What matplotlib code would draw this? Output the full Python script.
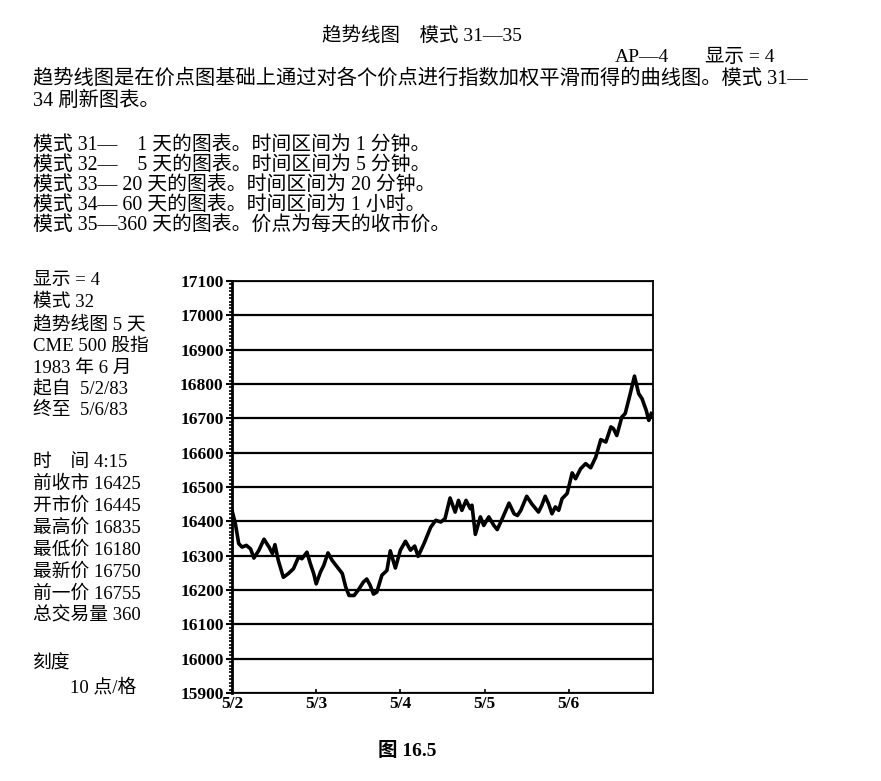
import matplotlib
matplotlib.use('Agg')
import matplotlib.pyplot as plt
from matplotlib.ticker import MultipleLocator

plt.rcParams['font.family'] = ['Liberation Serif', 'Noto Sans CJK SC', 'DejaVu Sans']

# Trend line, mode 32: 5 day chart, x in days from 5/2
days = [0.00, 0.04, 0.08, 0.12, 0.17, 0.22, 0.26, 0.32, 0.38, 0.44, 0.48, 0.51,
        0.55, 0.61, 0.67, 0.73, 0.79, 0.83, 0.89, 0.93, 0.97, 1.00, 1.05, 1.09,
        1.14, 1.19, 1.25, 1.31, 1.35, 1.39, 1.45, 1.50, 1.56, 1.60, 1.64, 1.68,
        1.72, 1.78, 1.84, 1.88, 1.94, 2.00, 2.06, 2.12, 2.17, 2.21, 2.28, 2.36,
        2.42, 2.48, 2.53, 2.59, 2.65, 2.69, 2.73, 2.78, 2.83, 2.85, 2.89, 2.95,
        2.99, 3.05, 3.11, 3.15, 3.21, 3.29, 3.35, 3.39, 3.43, 3.50, 3.56, 3.64,
        3.68, 3.72, 3.76, 3.80, 3.84, 3.88, 3.92, 3.98, 4.04, 4.08, 4.14, 4.20,
        4.26, 4.32, 4.38, 4.44, 4.50, 4.53, 4.57, 4.63, 4.67, 4.73, 4.78, 4.83,
        4.87, 4.92, 4.95, 4.98]
prices = [16432, 16393, 16335, 16325, 16330, 16320, 16293, 16316, 16348, 16325, 16306, 16332,
          16286, 16237, 16248, 16262, 16296, 16291, 16310, 16277, 16248, 16218, 16252, 16272,
          16308, 16286, 16267, 16248, 16209, 16184, 16184, 16200, 16223, 16232, 16214, 16188,
          16194, 16243, 16257, 16314, 16264, 16316, 16342, 16316, 16328, 16298, 16335, 16383,
          16403, 16398, 16408, 16468, 16427, 16461, 16432, 16461, 16437, 16447, 16362, 16413,
          16388, 16413, 16388, 16376, 16408, 16453, 16422, 16417, 16432, 16473, 16451, 16427,
          16447, 16473, 16451, 16422, 16442, 16432, 16466, 16481, 16541, 16524, 16553, 16568,
          16556, 16587, 16638, 16631, 16675, 16670, 16650, 16704, 16714, 16772, 16823, 16772,
          16757, 16723, 16694, 16714]

day_ticks = [0, 1, 2, 3, 4]
day_labels = ['5/2', '5/3', '5/4', '5/5', '5/6']

title = '趋势线图　模式 31—35'
para = ['趋势线图是在价点图基础上通过对各个价点进行指数加权平滑而得的曲线图。模式 31—',
        '34 刷新图表。']
modes = ['模式 31—　1 天的图表。时间区间为 1 分钟。',
         '模式 32—　5 天的图表。时间区间为 5 分钟。',
         '模式 33— 20 天的图表。时间区间为 20 分钟。',
         '模式 34— 60 天的图表。时间区间为 1 小时。',
         '模式 35—360 天的图表。价点为每天的收市价。']
panel_top = ['显示 = 4', '模式 32', '趋势线图 5 天', 'CME 500 股指',
             '1983 年 6 月', '起自  5/2/83', '终至  5/6/83']
panel_mid = ['时　间 4:15', '前收市 16425', '开市价 16445', '最高价 16835',
             '最低价 16180', '最新价 16750', '前一价 16755', '总交易量 360']

W, H = 881, 781
fig = plt.figure(figsize=(W / 100, H / 100), dpi=100)

def put(x, y, s, **kw):
    # x, y in pixels from top-left of the page
    fig.text(x / W, 1 - y / H, s, va='center', **kw)

put(422, 36, title, ha='center', fontsize=14)
put(615, 57, 'AP—4', fontsize=14)
put(705, 57, '显示 = 4', fontsize=14)
put(33, 79, para[0], fontsize=14.6)
put(33, 101, para[1], fontsize=14.6)
for i, s in enumerate(modes):
    put(33, 145 + i * 20, s, fontsize=14.3)

for i, s in enumerate(panel_top):
    put(33, 281 + i * 21.8, s, fontsize=13.5)
for i, s in enumerate(panel_mid):
    put(33, 462 + i * 22, s, fontsize=13.5)
put(33, 664, '刻度', fontsize=13.5)
put(70, 688, '10 点/格', fontsize=13.5)

put(407, 751, '图 16.5', ha='center', fontsize=14, fontweight='bold')

ax = fig.add_axes([232 / W, 1 - 693 / H, 421 / W, 412 / H])
ax.plot(days, prices, color='black', lw=2.6, solid_joinstyle='round')
ax.set_xlim(0, 5)
ax.set_ylim(15900, 17100)
ax.yaxis.set_major_locator(MultipleLocator(100))
ax.yaxis.set_minor_locator(MultipleLocator(10))
ax.set_xticks(day_ticks)
ax.set_xticklabels(day_labels)
ax.grid(axis='y', which='major', color='black', lw=1.6)
for side in ['top', 'right', 'bottom']:
    ax.spines[side].set_linewidth(1.3)
ax.spines['left'].set_linewidth(2)
ax.tick_params(axis='y', which='major', direction='out', length=4, width=1.5, pad=2)
ax.tick_params(axis='y', which='minor', direction='out', length=2.5, width=1.2)
ax.tick_params(axis='x', direction='in', length=3, width=1.2, pad=2)
for lab in ax.get_yticklabels() + ax.get_xticklabels():
    lab.set_fontweight('bold')
    lab.set_fontsize(12.5)

fig.savefig('out.png', dpi=100, facecolor='white')
